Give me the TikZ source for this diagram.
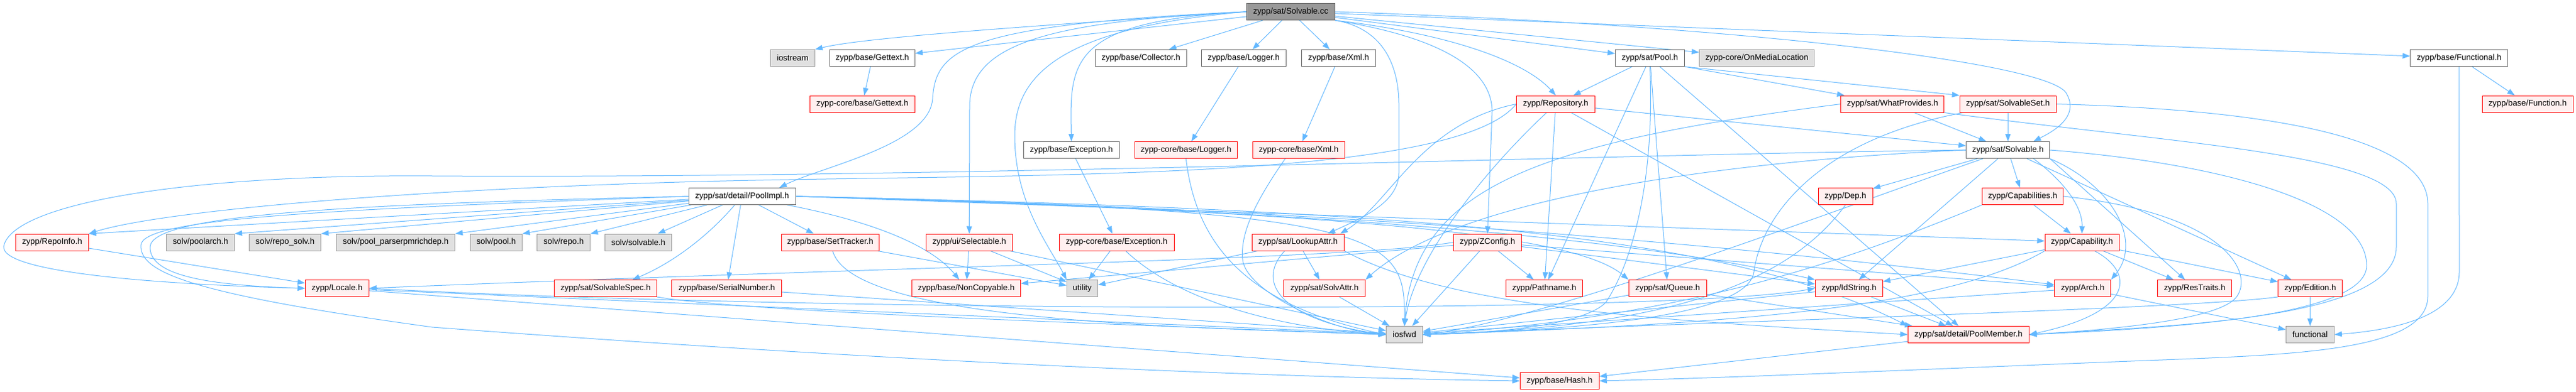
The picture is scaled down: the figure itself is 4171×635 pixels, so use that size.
\documentclass[tikz,border=0pt]{standalone}
\usepackage{fontspec}
\setmainfont{Liberation Sans}
\usetikzlibrary{arrows.meta,backgrounds}
\definecolor{edgeblue}{HTML}{63B8FF}
\definecolor{truncred}{HTML}{FF0000}
\definecolor{truncfill}{HTML}{FFF0F0}
\definecolor{sysfill}{HTML}{E0E0E0}
\definecolor{sysline}{HTML}{999999}
\definecolor{fileline}{HTML}{666666}
\definecolor{rootfill}{HTML}{999999}
\tikzset{
  hdr/.style={draw, line width=0.75pt, inner sep=0pt, minimum height=20.25pt,
    minimum width=#1*0.75pt, font=\fontsize{10}{12}\selectfont},
  hfile/.style={hdr=#1, draw=fileline, fill=white},
  syshdr/.style={hdr=#1, draw=sysline, fill=sysfill},
  trunc/.style={hdr=#1, draw=truncred, fill=truncfill},
  srcfile/.style={hdr=#1, draw=fileline, fill=rootfill},
  incl/.style={draw=edgeblue, line width=0.75pt, -{Triangle[length=9pt,width=6.5pt]}}
}
\begin{document}
\begin{tikzpicture}[x=0.75pt,y=-0.75pt]
\useasboundingbox (0,0) rectangle (4171,635);
\node[srcfile=143] (cc) at (2089.9,19) {zypp/sat/Solvable.cc};
\node[syshdr=72] (iostream) at (1283.4,94) {iostream};
\node[hfile=138] (gettext) at (1412.4,94) {zypp/base/Gettext.h};
\node[hfile=148] (collector) at (1847.3,94) {zypp/base/Collector.h};
\node[hfile=137] (logger) at (2013.8,94) {zypp/base/Logger.h};
\node[hfile=120] (xml) at (2167.5,94) {zypp/base/Xml.h};
\node[hfile=112] (pool) at (2671.4,94) {zypp/sat/Pool.h};
\node[syshdr=186] (onmedia) at (2844.6,94) {zypp-core/OnMediaLocation};
\node[hfile=158] (functional) at (3981.8,94) {zypp/base/Functional.h};
\node[trunc=170] (cgettext) at (1396.3,168.5) {zypp-core/base/Gettext.h};
\node[trunc=127] (repository) at (2519,168.5) {zypp/Repository.h};
\node[trunc=167] (whatprov) at (3064.4,168.5) {zypp/sat/WhatProvides.h};
\node[trunc=156] (solvset) at (3251.2,168.5) {zypp/sat/SolvableSet.h};
\node[trunc=147] (function) at (4092.6,168.5) {zypp/base/Function.h};
\node[hfile=155] (exception) at (1734.8,243) {zypp/base/Exception.h};
\node[trunc=166] (clogger) at (1920.3,243) {zypp-core/base/Logger.h};
\node[trunc=149] (cxml) at (2102.7,243) {zypp-core/base/Xml.h};
\node[hfile=135] (solvable) at (3251.2,243) {zypp/sat/Solvable.h};
\node[hfile=173] (poolimpl) at (1201.6,318) {zypp/sat/detail/PoolImpl.h};
\node[trunc=88] (dep) at (2988.1,318) {zypp/Dep.h};
\node[trunc=131] (capabilities) at (3275,318) {zypp/Capabilities.h};
\node[trunc=118] (repoinfo) at (84.4,392.5) {zypp/RepoInfo.h};
\node[syshdr=110] (poolarch) at (324.6,392.5) {solv/poolarch.h};
\node[syshdr=116] (reposolv) at (461.6,392.5) {solv/repo\_solv.h};
\node[syshdr=192] (richdep) at (640.7,392.5) {solv/pool\_parserpmrichdep.h};
\node[syshdr=84] (poolh) at (803.4,392.5) {solv/pool.h};
\node[syshdr=86] (repoh) at (912.6,392.5) {solv/repo.h};
\node[syshdr=108] (solvh) at (1033.6,392.5) {solv/solvable.h};
\node[trunc=158] (settracker) at (1344.3,392.5) {zypp/base/SetTracker.h};
\node[trunc=140] (selectable) at (1569.4,392.5) {zypp/ui/Selectable.h};
\node[trunc=186] (cexception) at (1808,392.5) {zypp-core/base/Exception.h};
\node[trunc=149] (lookupattr) at (2101.8,392.5) {zypp/sat/LookupAttr.h};
\node[trunc=110] (zconfig) at (2408.5,392.5) {zypp/ZConfig.h};
\node[trunc=120] (capability) at (3371,392.5) {zypp/Capability.h};
\node[trunc=103] (locale) at (545.8,467) {zypp/Locale.h};
\node[trunc=166] (solvspec) at (980.5,467) {zypp/sat/SolvableSpec.h};
\node[trunc=178] (serial) at (1176.7,467) {zypp/base/SerialNumber.h};
\node[trunc=176] (noncopy) at (1564.5,467) {zypp/base/NonCopyable.h};
\node[syshdr=50] (utility) at (1752.4,467) {utility};
\node[trunc=132] (solvattr) at (2144.5,467) {zypp/sat/SolvAttr.h};
\node[trunc=124] (pathname) at (2500.5,467) {zypp/Pathname.h};
\node[trunc=126] (queue) at (2700.2,467) {zypp/sat/Queue.h};
\node[trunc=109] (idstring) at (2993.8,467) {zypp/IdString.h};
\node[trunc=91] (arch) at (3372.2,467) {zypp/Arch.h};
\node[trunc=120] (restraits) at (3553.5,467) {zypp/ResTraits.h};
\node[trunc=104] (edition) at (3740.6,467) {zypp/Edition.h};
\node[syshdr=59] (iosfwd) at (2274,542) {iosfwd};
\node[trunc=196] (poolmember) at (3187.3,542) {zypp/sat/detail/PoolMember.h};
\node[syshdr=78] (stdfunctional) at (3740.4,542) {functional};
\node[trunc=128] (hash) at (2525.2,617) {zypp/base/Hash.h};
\begin{scope}[on background layer]
\fill[white] (0,0) rectangle (4171,635);
\draw[incl] (cc.west) .. controls (1700,40) and (1400,60) .. (iostream.north east);
\draw[incl] (cc) -- (gettext);
\draw[incl] (cc) -- (collector);
\draw[incl] (cc) -- (logger);
\draw[incl] (cc) -- (xml);
\draw[incl] (cc) -- (pool);
\draw[incl] (cc) -- (onmedia);
\draw[incl] (cc) -- (functional);
\draw[incl] (cc.west) .. controls (1560,40) and (1515,80) .. (1510,160) .. controls (1505,235) and (1330,270) .. ([xshift=-20pt]poolimpl.north east);
\draw[incl] (cc.west) .. controls (1700,35) and (1572,70) .. (1570,170) -- (selectable.north);
\draw[incl] (cc.west) .. controls (1720,45) and (1643,120) .. (1643,220) .. controls (1643,330) and (1700,400) .. (utility.north west);
\draw[incl] (cc.west) .. controls (1730,35) and (1732,100) .. (exception.north);
\draw[incl] (cc.south east) .. controls (2235,45) and (2265,100) .. (2265,170) -- (2265,280) .. controls (2265,330) and (2200,355) .. ([xshift=-20pt]lookupattr.north east);
\draw[incl] (cc.south east) .. controls (2330,60) and (2415,110) .. (2416,180) -- (zconfig.north);
\draw[incl] (cc.south east) .. controls (2350,55) and (2470,100) .. (repository.north);
\draw[incl] (cc.east) .. controls (2800,40) and (3310,100) .. (3345,150) .. controls (3370,190) and (3320,215) .. ([xshift=-20pt]solvable.north east);
\draw[incl] (gettext) -- (cgettext);
\draw[incl] (logger) -- (clogger);
\draw[incl] (xml) -- (cxml);
\draw[incl] (exception) -- (cexception);
\draw[incl] (functional) -- (function);
\draw[incl] (functional.south) -- (3982,440) .. controls (3982,515) and (3870,535) .. (stdfunctional.east);
\draw[incl] (pool) -- (repository);
\draw[incl] (pool.south east) -- (whatprov);
\draw[incl] (pool.south east) -- (solvset.north west);
\draw[incl] (pool) -- (pathname);
\draw[incl] (pool) -- (queue);
\draw[incl] (pool) -- (poolmember);
\draw[incl] (pool.south) .. controls (2680,300) and (2640,430) .. (2600,490) .. controls (2560,530) and (2400,540) .. (iosfwd.east);
\draw[incl] (repository.west) .. controls (2350,300) and (1600,280) .. (1100,295) .. controls (600,310) and (250,345) .. (repoinfo.north east);
\draw[incl] (repository) -- (pathname);
\draw[incl] (repository) -- (solvable);
\draw[incl] (repository) -- (poolmember);
\draw[incl] (repository.west) .. controls (2300,200) and (2250,330) .. ([xshift=-5pt]lookupattr.north east);
\draw[incl] (repository) .. controls (2400,280) and (2290,420) .. (iosfwd.north);
\draw[incl] (whatprov) -- (solvable);
\draw[incl] (whatprov.west) .. controls (2500,230) and (2290,300) .. (iosfwd.north);
\draw[incl] (whatprov.south east) .. controls (3500,230) and (3880,250) .. (3880,330) -- (3880,400) .. controls (3880,520) and (3500,528) .. (poolmember.east);
\draw[incl] (solvset) -- (solvable);
\draw[incl] (solvset) .. controls (2930,230) and (2850,360) .. (2840,440) .. controls (2830,520) and (2500,535) .. (iosfwd.east);
\draw[incl] (solvset.east) .. controls (3750,180) and (3931,240) .. (3931,330) -- (3931,480) .. controls (3931,572) and (3700,575) .. (3450,585) .. controls (3000,603) and (2800,612) .. (hash.east);
\draw[incl] (solvable) -- (dep);
\draw[incl] (solvable) -- (capabilities);
\draw[incl] (solvable) -- (idstring);
\draw[incl] (solvable.south east) -- (restraits);
\draw[incl] (solvable) -- (edition);
\draw[incl] ([xshift=-20pt]solvable.south east) .. controls (3350,300) and (3372,340) .. (capability.north);
\draw[incl] (solvable.south east) .. controls (3420,300) and (3470,390) .. (arch.north east);
\draw[incl] (solvable) .. controls (3000,330) and (2500,520) .. (iosfwd.east);
\draw[incl] (solvable.west) .. controls (2800,260) and (2360,320) .. (solvattr.north east);
\draw[incl] (solvable.east) .. controls (3600,265) and (3832,330) .. (3832,430) .. controls (3832,515) and (3500,532) .. (poolmember.east);
\draw[incl] (solvable.west) .. controls (2600,250) and (1500,290) .. (700,285) .. controls (300,282) and (20,330) .. (6,399) .. controls (0,445) and (300,462) .. (locale.west);
\draw[incl] (dep.south) .. controls (2880,480) and (2650,530) .. (iosfwd.east);
\draw[incl] (capabilities) -- (capability);
\draw[incl] (capabilities.south west) .. controls (2950,440) and (2700,515) .. (iosfwd.east);
\draw[incl] (capabilities.east) .. controls (3600,345) and (3650,440) .. (3622,480) .. controls (3595,520) and (3400,535) .. (poolmember.east);
\draw[incl] (capability) -- (idstring);
\draw[incl] (capability) -- (restraits);
\draw[incl] (capability) -- (edition);
\draw[incl] (capability.south west) .. controls (3150,500) and (2800,525) .. (iosfwd.east);
\draw[incl] ([xshift=-30pt]capability.south east) .. controls (3455,440) and (3460,505) .. (poolmember.east);
\draw[incl] (idstring) -- (iosfwd);
\draw[incl] (idstring) -- (poolmember);
\draw[incl] (arch) -- (iosfwd);
\draw[incl] (arch) -- (stdfunctional);
\draw[incl] (edition) -- (stdfunctional);
\draw[incl] (edition.south west) .. controls (3550,500) and (2800,520) .. (iosfwd.east);
\draw[incl] (queue) -- (iosfwd);
\draw[incl] (queue) -- (poolmember);
\draw[incl] (solvattr) -- (iosfwd);
\draw[incl] (lookupattr) -- (solvattr);
\draw[incl] ([xshift=40pt]lookupattr.south west) .. controls (2030,460) and (2080,520) .. (iosfwd.west);
\draw[incl] (lookupattr) -- (utility);
\draw[incl] (lookupattr.south east) .. controls (2350,500) and (2700,520) .. (poolmember.west);
\draw[incl] (zconfig) -- (pathname);
\draw[incl] (zconfig) -- (iosfwd);
\draw[incl] (zconfig) -- (noncopy);
\draw[incl] (zconfig) -- (arch);
\draw[incl] (zconfig) -- (idstring);
\draw[incl] (zconfig.west) .. controls (2200,420) and (1500,430) .. (locale.east);
\draw[incl] (selectable) -- (noncopy);
\draw[incl] (selectable) -- (utility);
\draw[incl] (selectable) -- (iosfwd);
\draw[incl] (cexception) -- (utility);
\draw[incl] (cexception) .. controls (1900,480) and (2050,530) .. (iosfwd.west);
\draw[incl] (clogger.south) .. controls (1935,380) and (2000,490) .. (iosfwd.west);
\draw[incl] ([xshift=40pt]cxml.south west) .. controls (2030,330) and (2008,380) .. (2012,420) .. controls (2016,470) and (2150,535) .. (iosfwd.west);
\draw[incl] (locale) -- (iosfwd);
\draw[incl] (locale) -- (hash);
\draw[incl] (locale.east) .. controls (1300,505) and (2700,510) .. (idstring.west);
\draw[incl] (repoinfo) -- (locale);
\draw[incl] (settracker) -- (utility);
\draw[incl] (settracker) .. controls (1380,520) and (1900,530) .. (iosfwd.west);
\draw[incl] (serial) -- (iosfwd);
\draw[incl] (solvspec.south east) .. controls (1200,505) and (1800,525) .. (iosfwd.west);
\draw[incl] (poolmember) -- (hash);
\draw[incl] (poolimpl) -- (repoinfo.north east);
\draw[incl] (poolimpl) -- (poolarch.north east);
\draw[incl] (poolimpl) -- (reposolv.north east);
\draw[incl] (poolimpl) -- (richdep.north east);
\draw[incl] (poolimpl) -- (poolh.north east);
\draw[incl] (poolimpl) -- (repoh.north east);
\draw[incl] (poolimpl) -- (solvh);
\draw[incl] (poolimpl) -- (settracker);
\draw[incl] (poolimpl) .. controls (1140,390) and (1080,430) .. ([xshift=-30pt]solvspec.north east);
\draw[incl] (poolimpl) -- (serial);
\draw[incl] (poolimpl) .. controls (1420,360) and (1510,400) .. (noncopy);
\draw[incl] (poolimpl.east) .. controls (2250,340) and (2275,380) .. (iosfwd.north);
\draw[incl] (poolimpl.east) .. controls (2300,340) and (2800,380) .. (poolmember.north west);
\draw[incl] (poolimpl.east) .. controls (2200,345) and (2550,380) .. (queue.north west);
\draw[incl] (poolimpl.east) -- (capability);
\draw[incl] (poolimpl.east) .. controls (2300,345) and (2700,400) .. (idstring.north west);
\draw[incl] (poolimpl.east) .. controls (2300,340) and (3000,420) .. (arch);
\draw[incl] (poolimpl.west) .. controls (600,330) and (245,345) .. (243,400) .. controls (242,445) and (330,462) .. (locale.west);
\draw[incl] (poolimpl.west) .. controls (500,340) and (228,355) .. (228,398) .. controls (228,440) and (300,475) .. (700,530) .. controls (1500,590) and (2100,612) .. (hash.west);
\end{scope}
\end{tikzpicture}
\end{document}
